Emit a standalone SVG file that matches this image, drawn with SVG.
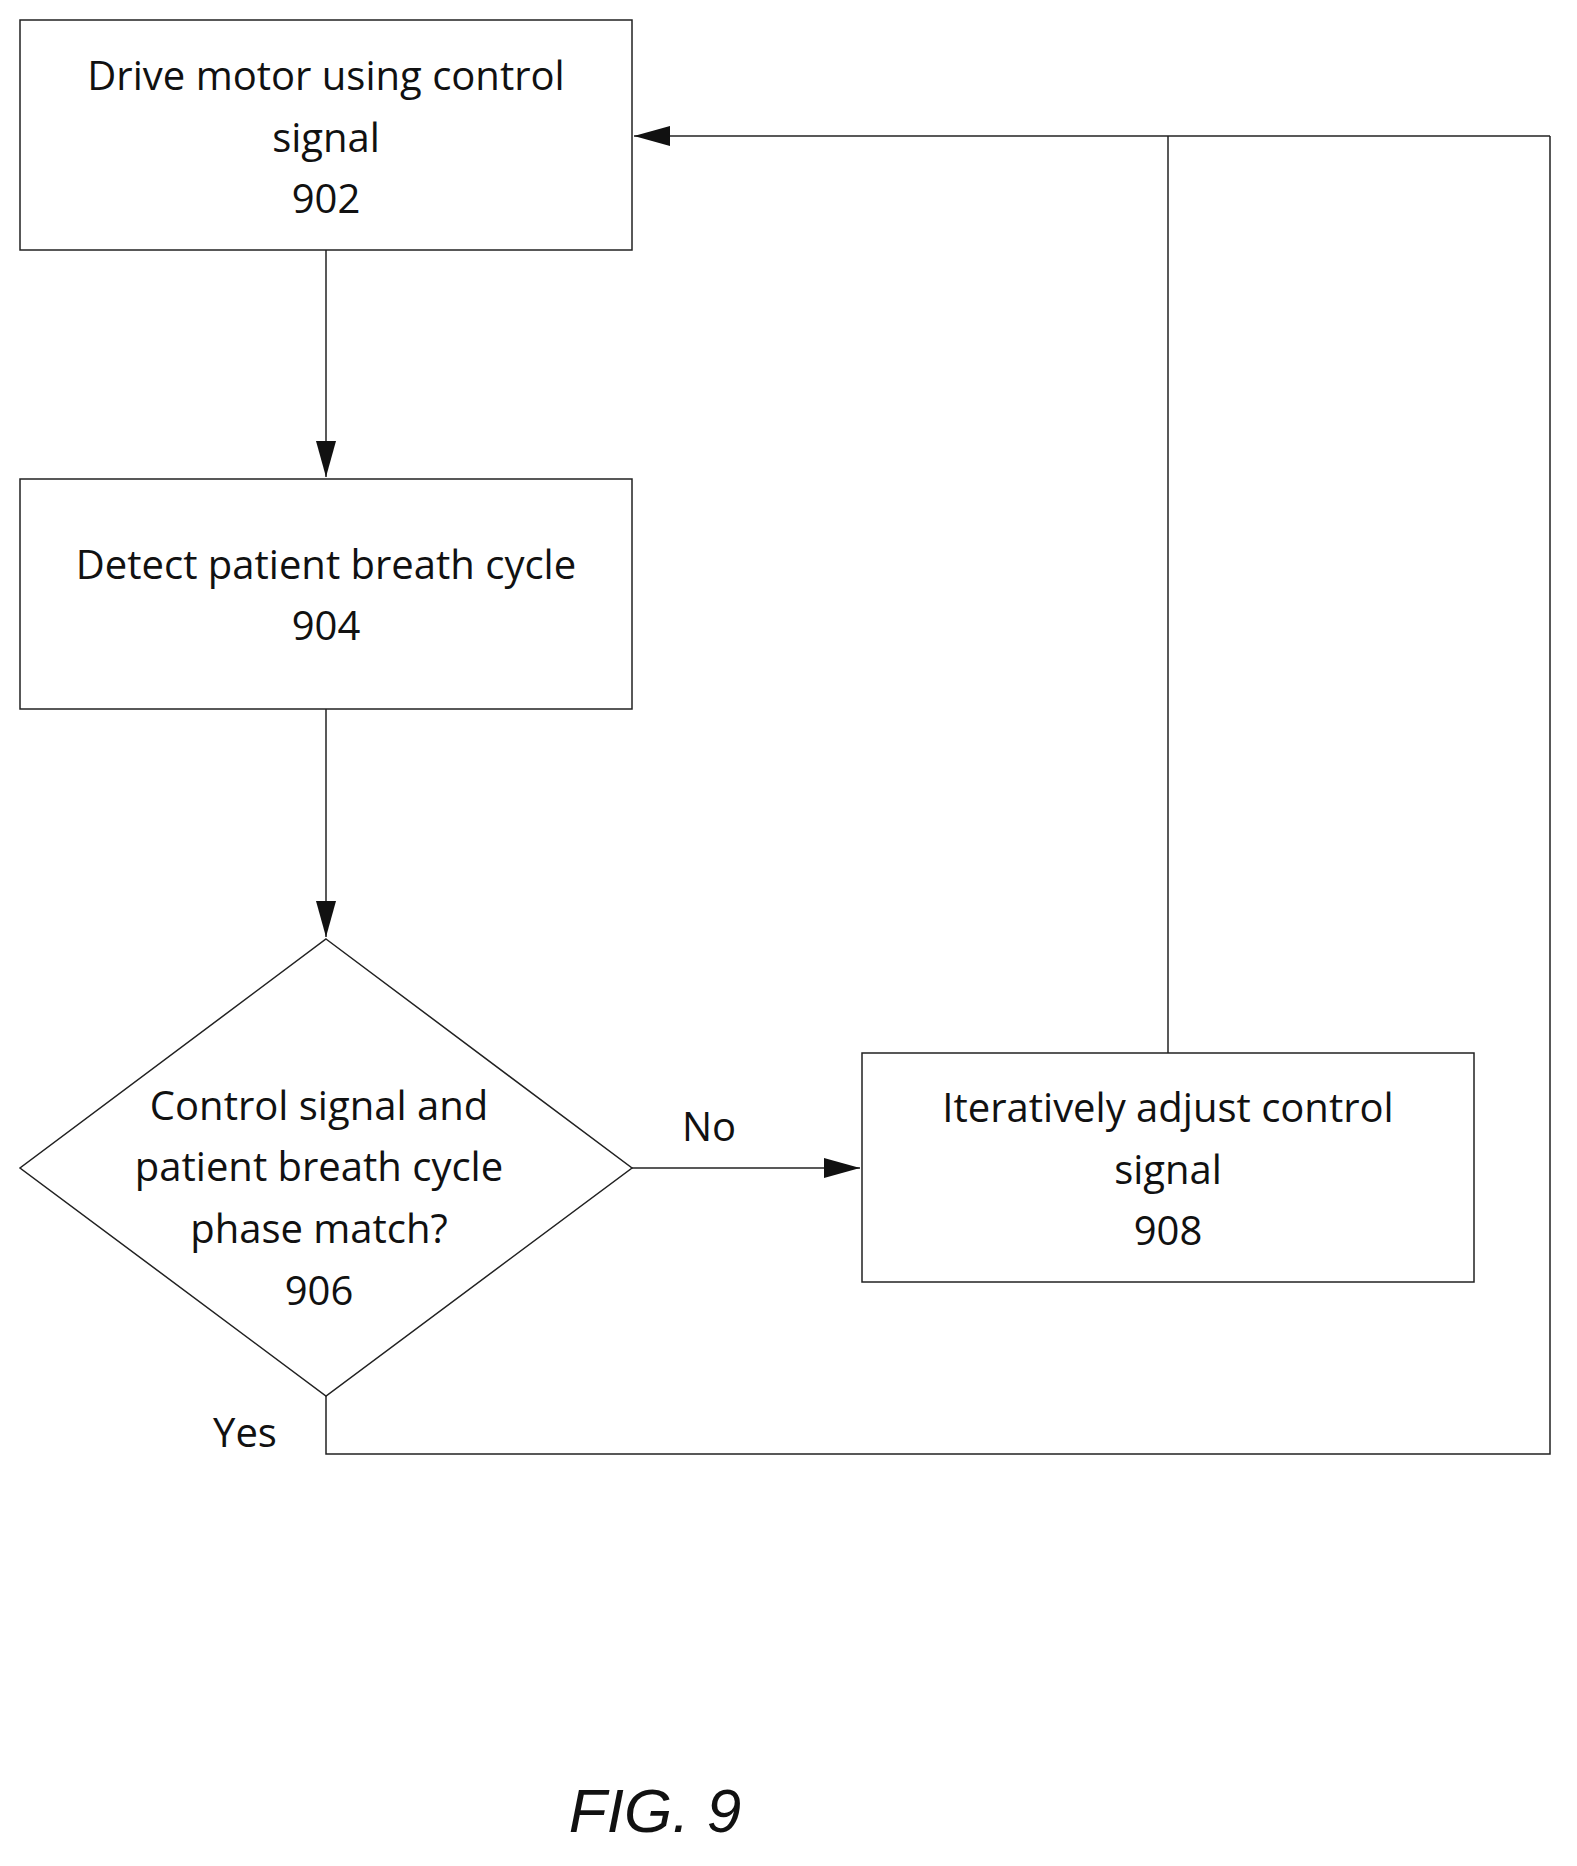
<svg xmlns="http://www.w3.org/2000/svg" width="1577" height="1866" viewBox="0 0 1577 1866">
<style>
.n{fill:#fff;stroke:#222;stroke-width:1.5}
.t{font-family:"Open Sans","Liberation Sans",sans-serif;font-size:40px;fill:#111;text-anchor:middle}
.c{fill:none;stroke:#222;stroke-width:1.5}
</style>
<defs><marker id="a" markerWidth="12" markerHeight="10" refX="12" refY="5" orient="auto" markerUnits="userSpaceOnUse" viewBox="0 0 12 10"><path d="M0,0L12,5L0,10Z" fill="#111"/></marker>
<marker id="b" markerWidth="36" markerHeight="20" refX="36" refY="10" orient="auto" markerUnits="userSpaceOnUse" viewBox="0 0 36 20"><path d="M0,0L36,10L0,20Z" fill="#111"/></marker></defs>
<rect width="1577" height="1866" fill="#fff"/>
<g id="connectors">
<path class="c" d="M326,250V477" marker-end="url(#b)"/>
<path class="c" d="M326,709V937" marker-end="url(#b)"/>
<path class="c" d="M632,1168H860" marker-end="url(#b)"/>
<path class="c" d="M1168,1053V136"/>
<path class="c" d="M1550,136H634" marker-end="url(#b)"/>
<path class="c" d="M326,1396V1454H1550V136"/>
</g>
<g id="n902"><rect class="n" x="20" y="20" width="612" height="230"/>
<text class="t" x="326" y="90">Drive motor using control</text><text class="t" x="326" y="152">signal</text><text class="t" x="326" y="213">902</text></g>
<g id="n904"><rect class="n" x="20" y="479" width="612" height="230"/>
<text class="t" x="326" y="579">Detect patient breath cycle</text><text class="t" x="326" y="640">904</text></g>
<g id="n906"><path class="n" d="M326,939L632,1168L326,1396L20,1168Z"/>
<text class="t" x="319" y="1120">Control signal and</text><text class="t" x="319" y="1181">patient breath cycle</text><text class="t" x="319" y="1243">phase match?</text><text class="t" x="319" y="1305">906</text></g>
<g id="n908"><rect class="n" x="862" y="1053" width="612" height="229"/>
<text class="t" x="1168" y="1122">Iteratively adjust control</text><text class="t" x="1168" y="1184">signal</text><text class="t" x="1168" y="1245">908</text></g>
<text class="t" x="709" y="1141">No</text>
<text class="t" x="245" y="1447">Yes</text>
<text x="655" y="1832" style="font-family:'Liberation Sans',Arial,sans-serif;font-size:62px;font-style:italic;text-anchor:middle;fill:#111">FIG. 9</text>
</svg>
